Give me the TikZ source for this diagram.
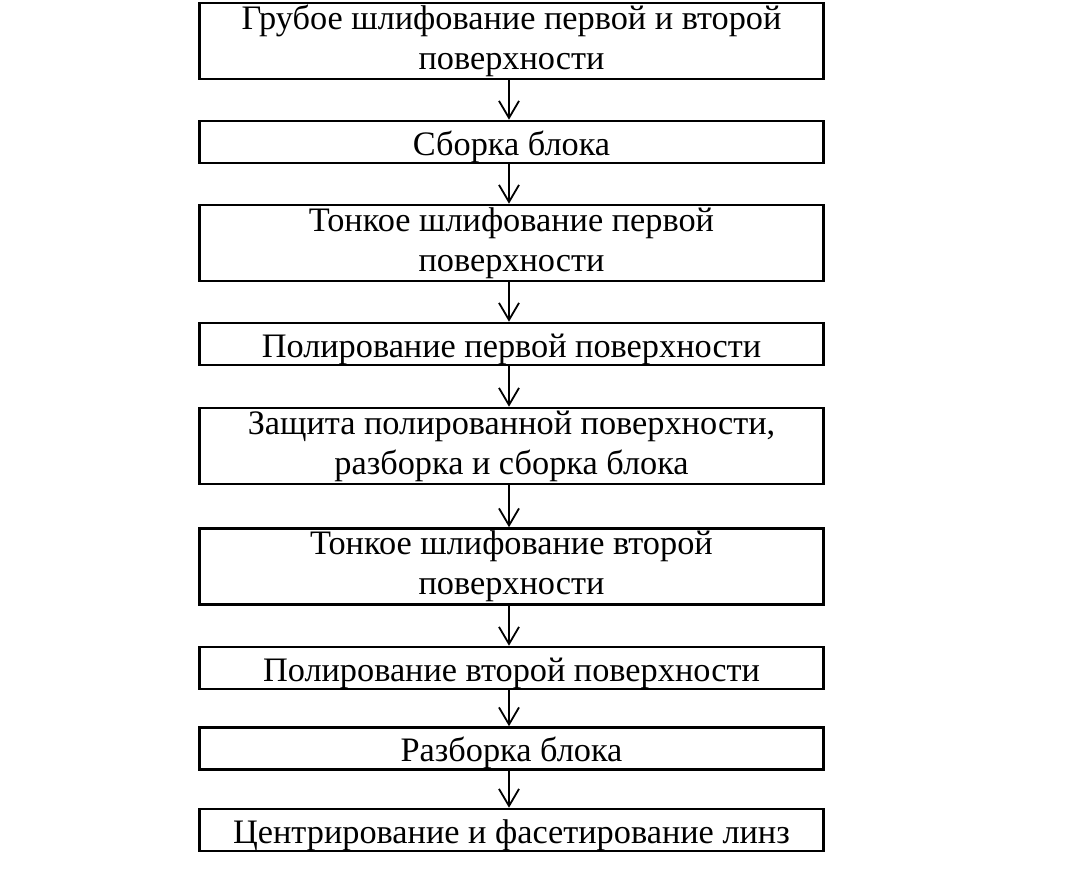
\documentclass[tikz,border=0pt]{standalone}
\usepackage{fontspec}
\setmainfont{Liberation Serif}
\usetikzlibrary{arrows.meta}
\begin{document}
\begin{tikzpicture}[x=1pt,y=-1pt,
  stepbox/.style={draw, line width=2.6pt, minimum width=624pt, inner sep=0pt, align=center,
    font=\fontsize{34.3}{40}\selectfont},
  onebox/.style={stepbox, minimum height=38pt, execute at begin node={\rule[-8pt]{0pt}{42pt}}},
  twobox/.style={stepbox, minimum height=76pt, execute at begin node={\rule{0pt}{31pt}}},
  arr/.style={line width=1.8pt, -{Straight Barb[length=17pt,width=20pt,line width=1.8pt]}}]
\useasboundingbox (0,0) rectangle (1083,880);
\node[twobox] (b1) at (511.5,41) {Грубое шлифование первой и второй\\поверхности};
\node[onebox] (b2) at (511.5,142) {Сборка блока};
\node[twobox] (b3) at (511.5,243) {Тонкое шлифование первой\\поверхности};
\node[onebox] (b4) at (511.5,344) {Полирование первой поверхности};
\node[twobox] (b5) at (511.5,446) {Защита полированной поверхности,\\разборка и сборка блока};
\node[twobox] (b6) at (511.5,566.5) {Тонкое шлифование второй\\поверхности};
\node[onebox] (b7) at (511.5,668) {Полирование второй поверхности};
\node[onebox] (b8) at (511.5,748.5) {Разборка блока};
\node[onebox] (b9) at (511.5,830) {Центрирование и фасетирование линз};
\foreach \a/\b in {b1/b2,b2/b3,b3/b4,b4/b5,b5/b6,b6/b7,b7/b8,b8/b9}
  \draw[arr] ([xshift=-2.5pt]\a.south) -- ([xshift=-2.5pt]\b.north);
\end{tikzpicture}
\end{document}
